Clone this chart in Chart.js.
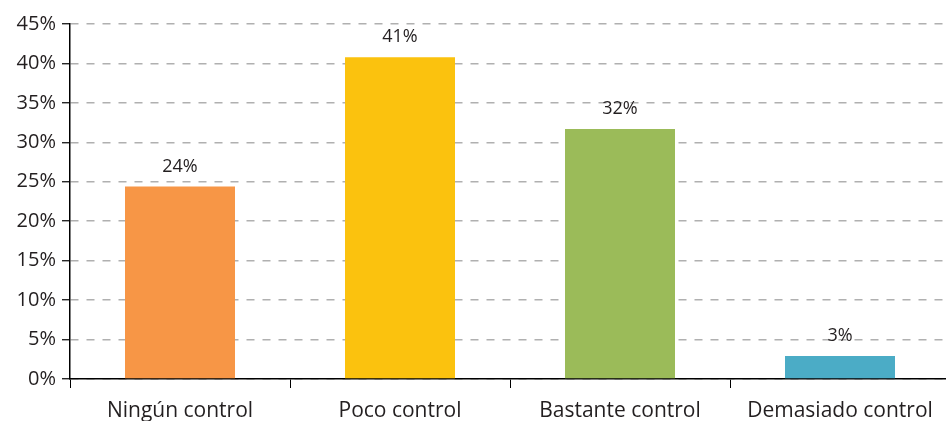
<!DOCTYPE html>
<html>
<head>
<meta charset="utf-8">
<script src="https://cdn.jsdelivr.net/npm/chart.js@4/dist/chart.umd.min.js"></script>
<style>
    html, body { margin: 0; padding: 0; background: #fff; overflow: hidden; }
    #wrap { width: 950px; height: 421px; position: relative; }
</style>
</head>
<body>
<div id="wrap"><canvas id="controlChart"></canvas></div>
<script>
const categorias = ['Ningún control', 'Poco control', 'Bastante control', 'Demasiado control'];
const valores = [24.4, 40.8, 31.7, 2.9];
const etiquetas = ['24%', '41%', '32%', '3%'];
const colores = ['#F79646', '#FBC20E', '#9BBB59', '#4BACC6'];

const textColor = '#231f20';
const fontFamily = '"Open Sans", "DejaVu Sans", sans-serif';

const etiquetasPlugin = {
    id: 'etiquetasBarras',
    afterDatasetsDraw: function (chart) {
        const ctx = chart.ctx;
        const meta = chart.getDatasetMeta(0);
        ctx.save();
        ctx.fillStyle = textColor;
        ctx.font = '18px ' + fontFamily;
        ctx.textAlign = 'center';
        ctx.textBaseline = 'alphabetic';
        meta.data.forEach(function (bar, i) {
            ctx.fillText(etiquetas[i], bar.x, bar.y - 15);
        });
        ctx.restore();
    }
};

new Chart(document.getElementById('controlChart'), {
    type: 'bar',
    data: {
        labels: categorias,
        datasets: [{
            data: valores,
            backgroundColor: colores,
            borderWidth: 0,
            categoryPercentage: 1,
            barPercentage: 0.5
        }]
    },
    plugins: [etiquetasPlugin],
    options: {
        responsive: true,
        maintainAspectRatio: false,
        animation: false,
        layout: {
            padding: { top: 24, right: 0, bottom: 0, left: 0 }
        },
        plugins: {
            legend: { display: false },
            tooltip: { enabled: false }
        },
        scales: {
            x: {
                grid: {
                    offset: true,
                    drawOnChartArea: false,
                    tickLength: 9,
                    tickColor: '#000',
                    tickWidth: 1
                },
                border: { color: '#000', width: 1.5 },
                ticks: {
                    color: textColor,
                    font: { family: fontFamily, size: 21 },
                    padding: 10,
                    maxRotation: 0
                },
                afterFit: function (scale) {
                    scale.height = 42;
                    scale.paddingRight = 0;
                    scale.paddingLeft = 0;
                }
            },
            y: {
                min: 0,
                max: 45,
                grid: {
                    color: '#b0b0b0',
                    lineWidth: 1.5,
                    tickLength: 8,
                    tickColor: '#000',
                    tickWidth: 1.2
                },
                border: { color: '#000', width: 1.5, dash: [8, 8] },
                ticks: {
                    stepSize: 5,
                    color: textColor,
                    padding: 6,
                    font: { family: fontFamily, size: 20 },
                    callback: function (value) {
                        return value + '%';
                    }
                },
                afterFit: function (scale) {
                    scale.width = 70;
                }
            }
        }
    }
});
</script>
</body>
</html>
